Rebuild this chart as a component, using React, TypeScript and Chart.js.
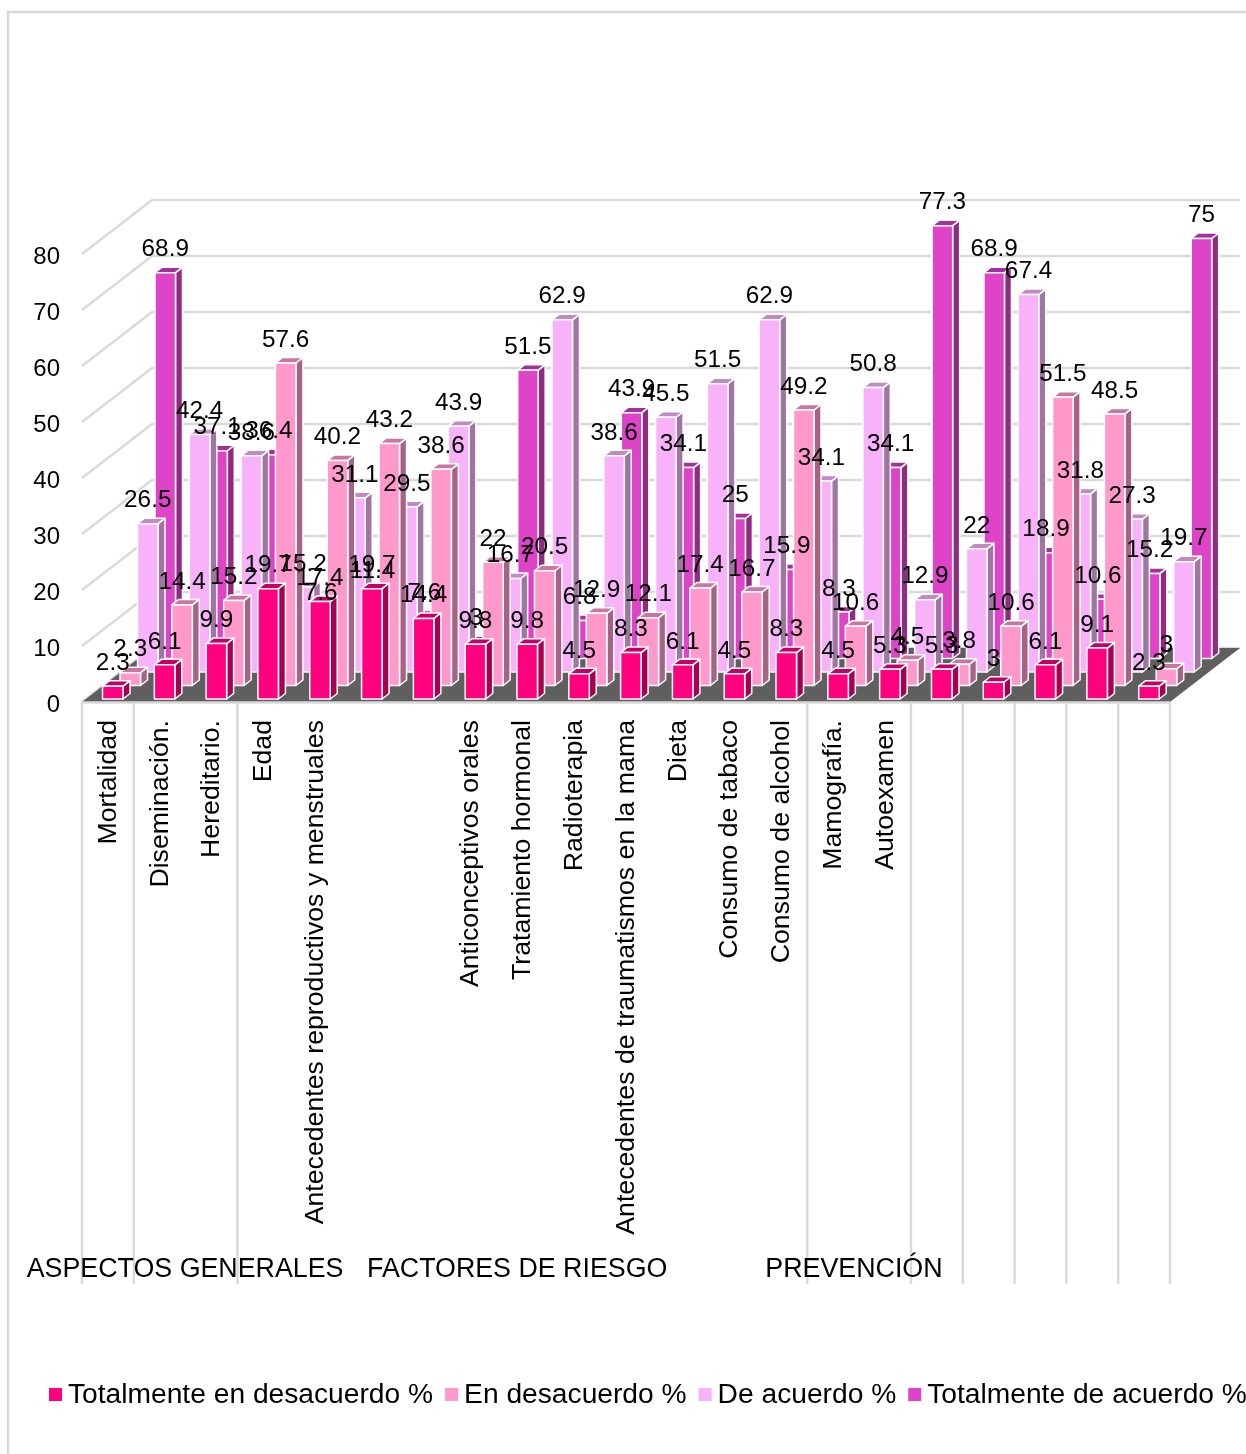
import React, { useEffect, useRef } from "react";
import { Chart, registerables } from "chart.js";

Chart.register(...registerables);

const categories = [
  "Mortalidad", "Diseminación.", "Hereditario.", "Edad",
  "Antecedentes reproductivos y menstruales", "", "",
  "Anticonceptivos orales", "Tratamiento hormonal", "Radioterapia",
  "Antecedentes de traumatismos en la mama", "Dieta", "Consumo de tabaco",
  "Consumo de alcohol", "Mamografía.", "Autoexamen", "", "", "", "", "",
];
const groupLabels = ["ASPECTOS GENERALES", "FACTORES DE RIESGO", "PREVENCIÓN"];

const totalDesacuerdo = [2.3, 6.1, 9.9, 19.7, 17.4, 19.7, 14.4, 9.8, 9.8, 4.5, 8.3, 6.1, 4.5, 8.3, 4.5, 5.3, 5.3, 3, 6.1, 9.1, 2.3];
const enDesacuerdo = [2.3, 14.4, 15.2, 57.6, 40.2, 43.2, 38.6, 22, 20.5, 12.9, 12.1, 17.4, 16.7, 49.2, 10.6, 4.5, 3.8, 10.6, 51.5, 48.5, 3];
const deAcuerdo = [26.5, 42.4, 38.6, 15.2, 31.1, 29.5, 43.9, 16.7, 62.9, 38.6, 45.5, 51.5, 62.9, 34.1, 50.8, 12.9, 22, 67.4, 31.8, 27.3, 19.7];
const totalAcuerdo = [68.9, 37.1, 36.4, 7.6, 11.4, 7.6, 3, 51.5, 6.8, 43.9, 34.1, 25, 15.9, 8.3, 34.1, 77.3, 68.9, 18.9, 10.6, 15.2, 75];

const FONT = "'Liberation Sans', Arial, sans-serif";
const GRID = "#D9D9D9";

// Depth of the whole 3D box, and the extrusion of a single bar.
const BOX_DX = 70;
const BOX_DY = 54;
const SLOT_DX = BOX_DX / 4;
const SLOT_DY = BOX_DY / 4;
const SLOT_START = 0.22;
const BAR_SHIFT = 1;
const BAR_DX = 7;
const BAR_DY = 5.5;

const seriesStyles = [
  { label: "Totalmente en desacuerdo %", data: totalDesacuerdo, slot: 0, front: "#FF007F", top: "#C60062", side: "#A6004F" },
  { label: "En desacuerdo %", data: enDesacuerdo, slot: 1, front: "#FF99CC", top: "#C777A0", side: "#A66385" },
  { label: "De acuerdo %", data: deAcuerdo, slot: 2, front: "#F7B2FA", top: "#C08BC3", side: "#A074A3" },
  { label: "Totalmente de acuerdo %", data: totalAcuerdo, slot: 3, front: "#DD44C8", top: "#A3309B", side: "#8F2C82" },
];

const poly = (ctx: CanvasRenderingContext2D, pts: number[][], fill: string) => {
  ctx.beginPath();
  pts.forEach(([x, y], i) => (i ? ctx.lineTo(x, y) : ctx.moveTo(x, y)));
  ctx.closePath();
  ctx.fillStyle = fill;
  ctx.fill();
  ctx.stroke();
};

const slotOffset = (slot: number) => ({
  dx: (slot + SLOT_START) * SLOT_DX + BAR_SHIFT,
  dy: (slot + SLOT_START) * SLOT_DY,
});

// Chart frame, walls, floor and the category separators below the floor.
const boxPlugin = {
  id: "box3d",
  beforeDatasetsDraw(chart: any) {
    const { ctx, scales } = chart;
    const xs = scales.x;
    const ys = scales.y;
    const left = xs.left;
    const right = xs.right;
    const base = ys.getPixelForValue(0);
    ctx.save();
    ctx.strokeStyle = GRID;
    ctx.lineWidth = 2.4;

    ctx.beginPath();
    ctx.moveTo(8, 1454);
    ctx.lineTo(8, 12);
    ctx.lineTo(1246, 12);
    ctx.stroke();

    ys.ticks.forEach((t: any) => {
      const y = ys.getPixelForValue(t.value);
      ctx.beginPath();
      ctx.moveTo(left, y);
      ctx.lineTo(left + BOX_DX, y - BOX_DY);
      ctx.lineTo(right + BOX_DX, y - BOX_DY);
      ctx.stroke();
    });

    [0, 1, 3, 14, 16, 17, 18, 19, 20, 21].forEach((b) => {
      const x = xs.getPixelForValue(b - 0.5);
      ctx.beginPath();
      ctx.moveTo(x, base);
      ctx.lineTo(x, 1284);
      ctx.stroke();
    });

    ctx.beginPath();
    ctx.moveTo(left, base);
    ctx.lineTo(right, base);
    ctx.lineTo(right + BOX_DX, base - BOX_DY);
    ctx.lineTo(left + BOX_DX, base - BOX_DY);
    ctx.closePath();
    ctx.fillStyle = "#5F5F5F";
    ctx.fill();

    ctx.beginPath();
    ctx.moveTo(left, base + 0.5);
    ctx.lineTo(right, base + 0.5);
    ctx.stroke();
    ctx.restore();
  },
};

// Each series sits on its own row of the floor, drawn as an extruded box.
const barPlugin = {
  id: "bars3d",
  beforeDatasetDraw(chart: any, args: any) {
    const { ctx } = chart;
    const style = seriesStyles[args.index];
    const { dx, dy } = slotOffset(style.slot);
    ctx.save();
    ctx.strokeStyle = "#FFFFFF";
    ctx.lineWidth = 1.5;
    ctx.lineJoin = "round";
    args.meta.data.forEach((bar: any) => {
      const { x, y, base, width } = bar.getProps(["x", "y", "base", "width"], true);
      const x0 = x - width / 2 + dx;
      const x1 = x + width / 2 + dx;
      const yTop = y - dy;
      const yBase = base - dy;
      poly(ctx, [[x1, yTop], [x1 + BAR_DX, yTop - BAR_DY], [x1 + BAR_DX, yBase - BAR_DY], [x1, yBase]], style.side);
      poly(ctx, [[x0, yTop], [x0 + BAR_DX, yTop - BAR_DY], [x1 + BAR_DX, yTop - BAR_DY], [x1, yTop]], style.top);
      poly(ctx, [[x0, yTop], [x1, yTop], [x1, yBase], [x0, yBase]], style.front);
    });
    ctx.restore();
    return false;
  },
};

// Value labels, group captions and the legend row.
const textPlugin = {
  id: "texts",
  afterDatasetsDraw(chart: any) {
    const { ctx, scales } = chart;
    ctx.save();
    ctx.fillStyle = "#000000";
    ctx.textAlign = "center";
    ctx.textBaseline = "middle";
    ctx.font = `24.3px ${FONT}`;
    [3, 2, 1, 0].forEach((index) => {
      const style = seriesStyles[index];
      const { dx, dy } = slotOffset(style.slot);
      const meta = chart.getDatasetMeta(index);
      meta.data.forEach((bar: any, i: number) => {
        const { x, y } = bar.getProps(["x", "y"], true);
        ctx.fillText(String(style.data[i]), x + dx, y - dy - 23);
      });
    });

    ctx.font = `26.8px ${FONT}`;
    [1.49, 7.9, 14.4].forEach((v, i) => {
      ctx.fillText(groupLabels[i], scales.x.getPixelForValue(v), 1270);
    });

    ctx.textAlign = "left";
    ctx.font = `28.2px ${FONT}`;
    let cursor = 49;
    seriesStyles.forEach((style) => {
      ctx.fillStyle = style.front;
      ctx.fillRect(cursor, 1388, 13, 13);
      ctx.fillStyle = "#000000";
      ctx.fillText(style.label, cursor + 19, 1395);
      cursor += 19 + ctx.measureText(style.label).width + 12;
    });
    ctx.restore();
  },
};

export default function App() {
  const canvasRef = useRef<HTMLCanvasElement>(null);

  useEffect(() => {
    const chart = new Chart(canvasRef.current as HTMLCanvasElement, {
      type: "bar",
      data: {
        labels: categories,
        datasets: seriesStyles.map((s) => ({
          label: s.label,
          data: s.data,
          backgroundColor: s.front,
          order: s.slot,
          barThickness: 20.5,
          grouped: false,
        })),
      } as any,
      options: {
        responsive: false,
        animation: false,
        layout: { padding: { top: 254, right: 76, bottom: 152, left: 0 } },
        plugins: { legend: { display: false }, tooltip: { enabled: false } },
        scales: {
          x: {
            grid: { display: false, drawTicks: false },
            border: { display: false },
            afterFit: (scale: any) => {
              scale.height = 600;
            },
            ticks: {
              autoSkip: false,
              minRotation: 90,
              maxRotation: 90,
              padding: 18,
              labelOffset: 0.5,
              color: "#000000",
              font: { family: FONT, size: 26.7 },
            },
          },
          y: {
            min: 0,
            max: 80,
            grid: { display: false, drawTicks: false },
            border: { display: false },
            afterFit: (scale: any) => {
              scale.width = 82;
            },
            ticks: {
              stepSize: 10,
              padding: 22,
              labelOffset: 3,
              color: "#000000",
              font: { family: FONT, size: 24 },
            },
          },
        },
      },
      plugins: [boxPlugin, barPlugin, textPlugin],
    } as any);
    return () => chart.destroy();
  }, []);

  return (
    <div style={{ position: "absolute", left: 0, top: 0, width: 1246, height: 1454, background: "#FFFFFF" }}>
      <canvas ref={canvasRef} width={1246} height={1454} style={{ display: "block" }} />
    </div>
  );
}
